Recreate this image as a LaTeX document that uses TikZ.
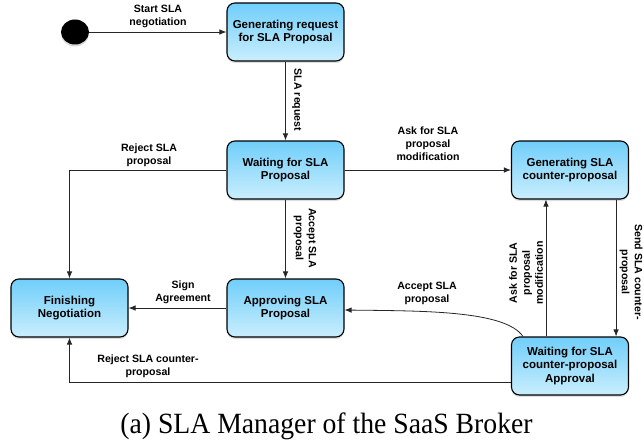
\documentclass[tikz,border=0pt]{standalone}
\usepackage{fontspec}
\usepackage{graphicx}
\setmainfont{Liberation Serif}
\newfontfamily\hv{Liberation Sans}
\usetikzlibrary{arrows.meta,shadows,calc,shapes.geometric}
\definecolor{boxtop}{RGB}{112,206,250}
\definecolor{boxbot}{RGB}{202,238,253}
\tikzset{
  statebox/.style={draw=black, line width=1.1pt, rounded corners=8pt,
    minimum width=117pt, minimum height=58pt, inner sep=2pt,
    top color=boxtop, bottom color=boxbot, align=center,
    font=\hv\bfseries\fontsize{11.5}{13.5}\selectfont,
    drop shadow={opacity=0.25, shadow xshift=0pt, shadow yshift=-2pt}},
  lbl/.style={font=\hv\bfseries\fontsize{10.6}{13}\selectfont, align=center, inner sep=0pt},
  arr/.style={line width=0.8pt, draw=black!85, -{Latex[length=7pt,width=5.5pt]}}
}
\begin{document}
\begin{tikzpicture}[x=1pt,y=-1pt]
\useasboundingbox (0,0) rectangle (644,441);
% states
\node[ellipse, fill=black, minimum width=28pt, minimum height=25pt, inner sep=0pt,
  drop shadow={opacity=0.3, shadow xshift=0pt, shadow yshift=-2pt}] (init) at (75,32) {};
\node[statebox] (b1) at (285.5,32) {Generating request\\for SLA Proposal};
\node[statebox] (b2) at (285.5,170) {Waiting for SLA\\Proposal};
\node[statebox] (b3) at (570,170) {Generating SLA\\counter-proposal};
\node[statebox] (b4) at (69.5,308) {Finishing\\Negotiation};
\node[statebox] (b5) at (285.5,308) {Approving SLA\\Proposal};
\node[statebox] (b6) at (570,366) {Waiting for SLA\\counter-proposal\\Approval};
% connectors
\draw[arr] (init) -- (b1);
\draw[arr] (b1) -- (b2);
\draw[arr] (b2.west) -| (b4.north);
\draw[arr] (b2) -- (b5);
\draw[arr] (b5) -- (b4);
\draw[arr] (b2) -- (b3);
\draw[arr] ($(b3.south east)+(-13,0)$) -- ($(b6.north east)+(-13,0)$);
\draw[arr] ($(b6.north west)+(35,0)$) -- ($(b3.south west)+(35,0)$);
\draw[arr] ($(b6.north west)+(12,0)$) .. controls (505,310) and (420,311) .. ($(b5.east)+(0,2)$);
\draw[arr] ($(b6.west)+(0,16)$) -| (b4.south);
% labels
\node[lbl] (lStart) at (158,16.5) {Start SLA\\negotiation};
\node[lbl, rotate=-90] (lReq) at (297,100) {SLA request};
\node[lbl] (lRej) at (149,155) {Reject SLA\\proposal};
\node[lbl, rotate=-90] (lAcc) at (305,238) {Accept SLA\\proposal};
\node[lbl] (lSign) at (183,292.5) {Sign\\Agreement};
\node[lbl] (lAsk) at (428,143.5) {Ask for SLA\\proposal\\modification};
\node[lbl, rotate=-90] (lSend) at (631,272) {Send SLA counter-\\proposal};
\node[lbl, rotate=90] (lAsk2) at (526,273) {Ask for SLA\\proposal\\modification};
\node[lbl] (lAcc2) at (427,293) {Accept SLA\\proposal};
\node[lbl] (lRej2) at (148,366) {Reject SLA counter-\\proposal};
% caption
\node[anchor=base, inner sep=0pt, font=\fontsize{27.7}{30}\selectfont] (cap) at (326.5,433.5) {\scalebox{1}[1.06]{(a) SLA Manager of the SaaS Broker}};
\end{tikzpicture}
\end{document}
